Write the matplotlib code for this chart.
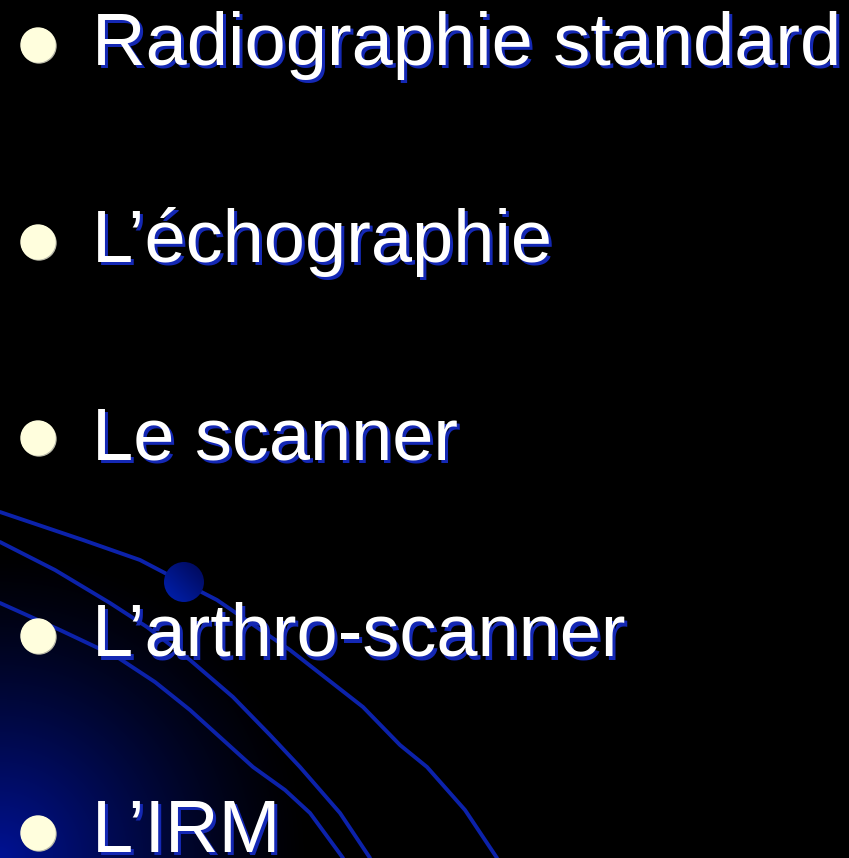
import numpy as np
import matplotlib.pyplot as plt
from matplotlib.patches import Circle
from matplotlib.transforms import offset_copy

W, H = 849, 858

# slide content
items = ["Radiographie standard", "L\u2019échographie", "Le scanner",
         "L\u2019arthro-scanner", "L\u2019IRM"]
baselines = [65, 262, 459, 656, 852]
bullet_y = [45, 242, 438, 636, 833]

# decorative arcs (pixel coordinates)
arc1_x = [0, 83, 140, 184, 217, 290, 363, 400, 427, 465, 497]
arc1_y = [512, 540, 560, 583, 600, 650, 707, 745, 767, 810, 858]
arc2_x = [0, 55, 110, 147, 190, 233, 270, 300, 340, 370]
arc2_y = [542, 570, 603, 627, 660, 697, 735, 767, 813, 858]
arc3_x = [0, 60, 117, 155, 190, 253, 285, 310, 343]
arc3_y = [603, 630, 657, 682, 710, 767, 790, 813, 858]
ball = (184, 582, 20)

text_color = "white"
shadow_color = "#1428b4"
bullet_color = "#fffedd"
arc_color = "#0c22aa"

fig = plt.figure(figsize=(W / 100, H / 100), dpi=100)
ax = fig.add_axes([0, 0, 1, 1])
ax.set_xlim(0, W)
ax.set_ylim(H, 0)
ax.axis("off")

# background: black with blue glow in the lower-left corner
yy, xx = np.mgrid[0:H, 0:W]
d = np.sqrt(xx ** 2 + (H - yy) ** 2) / 310.0
glow = np.clip(1 - d, 0, 1) ** 1.3
bg = np.zeros((H, W, 3))
bg[..., 1] = 0.07 * glow
bg[..., 2] = 0.58 * glow
ax.imshow(bg, extent=(0, W, H, 0), zorder=0, interpolation="bilinear")

for xs, ys in [(arc1_x, arc1_y), (arc2_x, arc2_y), (arc3_x, arc3_y)]:
    ax.plot(xs, ys, color=arc_color, lw=2.8, solid_capstyle="round",
            solid_joinstyle="round", zorder=1)

# shaded ball sitting on the top arc
bx, by, br = ball
bgx, bgy = np.meshgrid(np.linspace(-1, 1, 80), np.linspace(-1, 1, 80))
shade = np.clip(0.5 + 0.5 * (-bgx + bgy) / 2, 0, 1)
ball_img = np.zeros((80, 80, 3))
ball_img[..., 1] = 0.03 + 0.10 * shade
ball_img[..., 2] = 0.33 + 0.37 * shade
im = ax.imshow(ball_img, extent=(bx - br, bx + br, by + br, by - br), zorder=2)
im.set_clip_path(Circle((bx, by), br, transform=ax.transData))

shadow_tr = offset_copy(ax.transData, fig=fig, x=2.3, y=-2.3, units="points")
for label, yb, yc in zip(items, baselines, bullet_y):
    ax.add_patch(Circle((39, yc + 1), 17, color="#b8b8a8", zorder=3))
    ax.add_patch(Circle((38, yc), 17, color=bullet_color, zorder=4))
    ax.text(92, yb, label, transform=shadow_tr, color=shadow_color,
            fontsize=53.3, family="Liberation Sans", va="baseline", zorder=5)
    ax.text(92, yb, label, color=text_color, fontsize=53.3,
            family="Liberation Sans", va="baseline", zorder=6)

fig.savefig("out.png", dpi=100, facecolor="black")
